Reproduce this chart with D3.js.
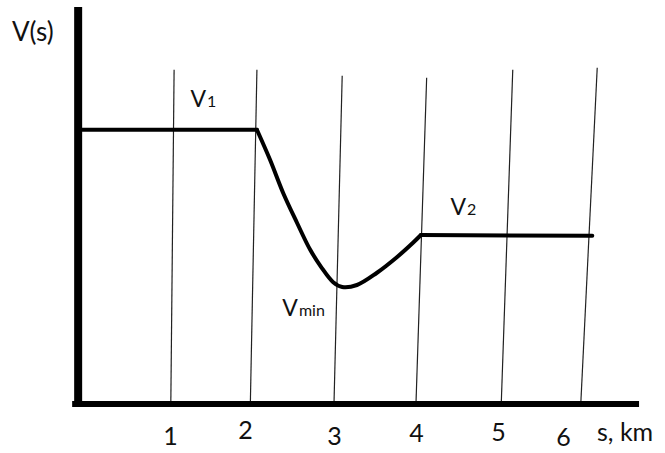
<!DOCTYPE html>
<html><head><meta charset="utf-8">
<script src="https://cdn.jsdelivr.net/npm/d3@7"></script>
<style>
body{margin:0;background:#fff;}
text{font-family:Lato,"Open Sans",sans-serif;fill:#111;}
</style></head>
<body><svg id="c" width="665" height="453"></svg>
<script>
// tick labels on the s axis (km)
const ticks = [1, 2, 3, 4, 5, 6];
// hand-drawn vertical guide lines: s at the axis and s at the top end, V at top end
const gridBottomS = [1.01, 1.98, 3.0, 4.0, 5.04, 6.01];
const gridTopS    = [1.05, 2.06, 3.10, 4.13, 5.18, 6.21];
const gridTopV    = [8.33, 8.33, 8.18, 8.13, 8.33, 8.38];
// speed profile V(s): constant V1, dip to Vmin, rise to V2, constant V2
const flat1S = [-0.12, 2.06];
const flat1V = [6.83, 6.83];
const dipS = [2.06, 2.22, 2.38, 2.55, 2.71, 2.85, 2.99, 3.10, 3.28, 3.52, 3.77, 3.96, 4.06];
const dipV = [6.83, 6.08, 5.25, 4.50, 3.83, 3.38, 3.02, 2.90, 2.95, 3.25, 3.65, 4.00, 4.20];
const flat2S = [4.06, 6.15];
const flat2V = [4.20, 4.18];
// annotations
const labels = [
  {main:"V", sub:"1", s:1.25, v:7.4},
  {main:"V", sub:"min", s:2.37, v:2.18},
  {main:"V", sub:"2", s:4.42, v:4.7}
];

const svg = d3.select("#c");
const x = d3.scaleLinear().domain([0, 7]).range([88, 662]);
const y = d3.scaleLinear().domain([0, 9.9]).range([403, 7]);
const xMin = -0.12;

// guide lines
svg.append("g").selectAll("line").data(ticks).join("line")
  .attr("x1", (d,i)=>x(gridBottomS[i])).attr("y1", y(0))
  .attr("x2", (d,i)=>x(gridTopS[i])).attr("y2", (d,i)=>y(gridTopV[i]))
  .attr("stroke", "#222").attr("stroke-width", 1.2);

// profile
const segs = [[flat1S, flat1V, d3.curveLinear], [dipS, dipV, d3.curveCatmullRom.alpha(0.5)], [flat2S, flat2V, d3.curveLinear]];
segs.forEach(([S, V, c]) => {
  const line = d3.line().x((d,i)=>x(S[i])).y((d,i)=>y(V[i])).curve(c);
  svg.append("path").datum(S).attr("d", line)
    .attr("fill","none").attr("stroke","#000").attr("stroke-width",4)
    .attr("stroke-linejoin","round").attr("stroke-linecap","round");
});

// axes
svg.append("line").attr("x1", x(xMin)).attr("x2", x(xMin)).attr("y1", y(9.9)).attr("y2", y(0)+2)
  .attr("stroke","#000").attr("stroke-width",8);
svg.append("line").attr("x1", x(xMin)-6).attr("x2", x(6.72)).attr("y1", y(0)+1).attr("y2", y(0)+1)
  .attr("stroke","#000").attr("stroke-width",6);

// hand-placed label nudges (px)
const labelDx = [0, -7, 0, 0, 0, -17];
const labelDy = [2, -4, 2, -1, -2, 3];
const ax = d3.axisBottom(x).tickValues(ticks).tickSize(0).tickPadding(22).tickFormat(d3.format("d"));
const gA = svg.append("g").attr("transform", `translate(0,${y(0)})`).call(ax);
gA.select(".domain").remove();
gA.selectAll("text").style("font-family","Lato, sans-serif").style("font-size","25px").attr("fill","#111")
  .attr("dx", (d,i)=>labelDx[i]).attr("transform", (d,i)=>`translate(0,${labelDy[i]})`);

svg.append("text").attr("x", 597).attr("y", 441).style("font-size","25px").text("s, km");
svg.append("text").attr("x", 12).attr("y", 41).style("font-size","26px").text("V(s)");

const lt = svg.append("g").selectAll("text").data(labels).join("text")
  .attr("x", d=>x(d.s)).attr("y", d=>y(d.v)).style("font-size","23px");
lt.append("tspan").text(d=>d.main);
lt.append("tspan").style("font-size","16px").attr("dx",1).text(d=>d.sub);
</script></body></html>
